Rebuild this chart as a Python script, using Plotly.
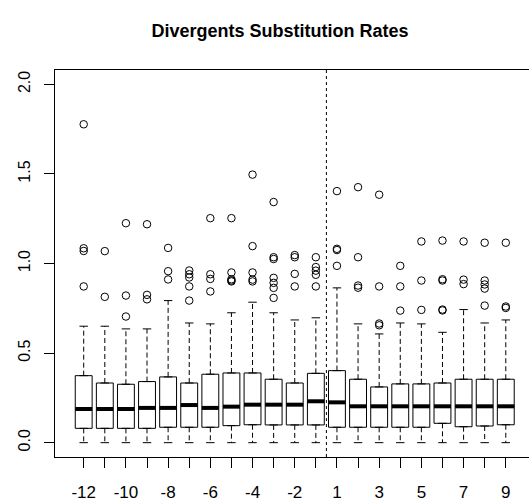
import plotly.graph_objects as go

categories = ["-12", "-11", "-10", "-9", "-8", "-7", "-6", "-5", "-4", "-3", "-2", "-1",
              "1", "2", "3", "4", "5", "6", "7", "8", "9"]
tick_labels = ["-12", "", "-10", "", "-8", "", "-6", "", "-4", "", "-2", "",
               "1", "", "3", "", "5", "", "7", "", "9"]

q1 = [0.080, 0.080, 0.080, 0.080, 0.086, 0.086, 0.086, 0.095, 0.100, 0.099, 0.099, 0.099,
      0.086, 0.086, 0.086, 0.086, 0.086, 0.108, 0.089, 0.093, 0.100]
median = [0.188, 0.188, 0.188, 0.194, 0.194, 0.210, 0.194, 0.201, 0.212, 0.212, 0.212, 0.231,
          0.225, 0.203, 0.203, 0.203, 0.203, 0.203, 0.203, 0.203, 0.203]
q3 = [0.374, 0.333, 0.326, 0.341, 0.367, 0.333, 0.382, 0.389, 0.389, 0.354, 0.333, 0.387,
      0.402, 0.354, 0.311, 0.328, 0.328, 0.333, 0.354, 0.354, 0.354]
whisker_low = [0.0] * 21
whisker_high = [0.650, 0.650, 0.635, 0.635, 0.793, 0.668, 0.663, 0.725, 0.784, 0.725, 0.685, 0.697,
                0.864, 0.663, 0.607, 0.668, 0.663, 0.616, 0.743, 0.668, 0.685]
outliers = [
    [1.777, 1.085, 1.070, 0.872],
    [1.069, 0.814],
    [1.225, 0.821, 0.704],
    [1.219, 0.825, 0.800],
    [1.087, 0.957, 0.911],
    [0.961, 0.940, 0.922, 0.872, 0.793],
    [1.253, 0.940, 0.914, 0.844],
    [1.253, 0.950, 0.912, 0.905, 0.900],
    [1.496, 1.097, 0.950, 0.910, 0.900],
    [1.343, 1.035, 1.025, 0.920, 0.892, 0.864, 0.808],
    [1.047, 1.035, 0.942, 0.872],
    [1.035, 0.980, 0.960, 0.937, 0.872],
    [1.404, 1.082, 1.075, 0.987],
    [1.426, 1.035, 0.877, 0.865],
    [1.384, 0.872, 0.665, 0.655],
    [0.987, 0.872, 0.737],
    [1.123, 0.905, 0.741],
    [1.128, 0.912, 0.905, 0.743, 0.738],
    [1.123, 0.910, 0.885],
    [1.116, 0.905, 0.883, 0.860, 0.765],
    [1.116, 0.760, 0.752],
]
title = "Divergents Substitution Rates"

pos = list(range(1, len(categories) + 1))
BOX_W = 0.8
CAP_HALF = 0.2
INK = "#000000"

fig = go.Figure()

# box bodies (whiskers drawn separately, dashed)
fig.add_trace(go.Box(
    x=pos, q1=q1, median=median, q3=q3, lowerfence=q1, upperfence=q3,
    width=BOX_W, fillcolor="white", line=dict(color=INK, width=1),
    boxpoints=False, hoverinfo="skip", showlegend=False,
))

# dashed whiskers
wx, wy = [], []
for p, a, b, lo, hi in zip(pos, q1, q3, whisker_low, whisker_high):
    wx += [p, p, None, p, p, None]
    wy += [b, hi, None, a, lo, None]
fig.add_trace(go.Scatter(x=wx, y=wy, mode="lines", line=dict(color=INK, width=1, dash="5px,3px"),
                         hoverinfo="skip", showlegend=False))

# caps
cx, cy = [], []
for p, lo, hi in zip(pos, whisker_low, whisker_high):
    cx += [p - CAP_HALF, p + CAP_HALF, None, p - CAP_HALF, p + CAP_HALF, None]
    cy += [hi, hi, None, lo, lo, None]
fig.add_trace(go.Scatter(x=cx, y=cy, mode="lines", line=dict(color=INK, width=1),
                         hoverinfo="skip", showlegend=False))

# thick medians
mx, my = [], []
for p, m in zip(pos, median):
    mx += [p - BOX_W / 2, p + BOX_W / 2, None]
    my += [m, m, None]
fig.add_trace(go.Scatter(x=mx, y=my, mode="lines", line=dict(color=INK, width=4),
                         hoverinfo="skip", showlegend=False))

# outliers
ox, oy = [], []
for p, vals in zip(pos, outliers):
    for v in vals:
        ox.append(p)
        oy.append(v)
fig.add_trace(go.Scatter(x=ox, y=oy, mode="markers",
                         marker=dict(symbol="circle-open", size=7.5, color=INK, line=dict(width=1)),
                         hoverinfo="skip", showlegend=False))

# dotted separator between -1 and 1
fig.add_shape(type="line", xref="x", yref="paper", x0=12.5, x1=12.5, y0=0, y1=1,
              line=dict(color=INK, width=1, dash="dot"))

fig.update_layout(
    width=529, height=501,
    margin=dict(l=55, r=0, t=70, b=44),
    paper_bgcolor="white", plot_bgcolor="white",
    font=dict(family="Liberation Sans, Arial, sans-serif", color=INK),
    title=dict(text="<b>" + title + "</b>", x=280 / 529, xanchor="center",
               y=1 - 31 / 501, yanchor="middle",
               font=dict(size=18, family="Liberation Sans, Arial, sans-serif", color=INK)),
    xaxis=dict(range=[-0.36, 22.1], tickmode="array", tickvals=pos, ticktext=tick_labels,
               showgrid=False, zeroline=False, showline=True, linecolor=INK, linewidth=1,
               mirror=True, ticks="outside", ticklen=10, tickcolor=INK,
               tickfont=dict(size=17), ticklabelstandoff=10),
    yaxis=dict(range=[-0.08, 2.08], tickmode="array", tickvals=[0, 0.5, 1, 1.5, 2],
               ticktext=["0.0", "0.5", "1.0", "1.5", "2.0"],
               showgrid=False, zeroline=False, showline=True, linecolor=INK, linewidth=1,
               mirror=False, ticks="outside", ticklen=10, tickcolor=INK, tickangle=-90,
               tickfont=dict(size=16), ticklabelstandoff=8),
)

fig.write_html("out.html")
